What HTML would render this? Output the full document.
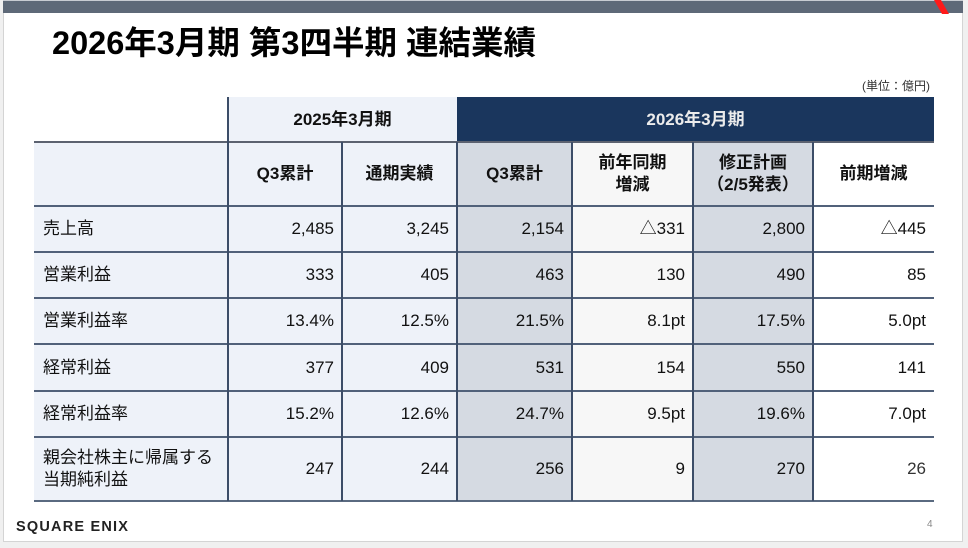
<!DOCTYPE html>
<html>
<head>
<meta charset="utf-8">
<style>
html,body{margin:0;padding:0;}
body{width:968px;height:548px;position:relative;overflow:hidden;background:#f0f0f0;font-family:"Liberation Sans","Noto Sans CJK JP",sans-serif;}
.slide{position:absolute;left:3px;top:0;width:958px;height:541px;background:#fff;border-left:1px solid #d4d4d4;border-right:1px solid #d4d4d4;border-bottom:1px solid #d4d4d4;}
.abs{position:absolute;}
.bar{position:absolute;left:3px;top:1px;width:960px;height:12px;background:#5e6978;}
.topline{position:absolute;left:3px;top:0;width:960px;height:1px;background:#c8ccd2;}
.title{position:absolute;left:52px;top:27px;height:32px;line-height:32px;font-size:32.5px;font-weight:bold;color:#000;white-space:nowrap;letter-spacing:0;}
.unit{position:absolute;left:862px;top:78px;height:16px;line-height:16px;font-size:12px;color:#333;white-space:nowrap;}
.cell{position:absolute;display:flex;align-items:center;box-sizing:border-box;font-size:17px;color:#111;white-space:nowrap;line-height:22px;}
.r{justify-content:flex-end;padding-right:8px;}
.l{justify-content:flex-start;padding-left:9px;}
.c{justify-content:center;text-align:center;font-weight:bold;}
.hl{position:absolute;height:2px;background:#51617a;}
.vl{position:absolute;width:2px;background:#3c4d68;}
.logo{position:absolute;left:16px;top:519px;height:16px;line-height:16px;font-size:14.5px;font-weight:bold;color:#222;letter-spacing:1.2px;white-space:nowrap;}
.pg{position:absolute;left:927px;top:518px;font-size:10px;color:#888;line-height:14px;}
</style>
</head>
<body>
<div class="slide"></div>
<div class="topline"></div>
<div class="bar"></div>
<svg class="abs" style="left:930px;top:0" width="24" height="16"><polygon points="4,0 11,0 19,14 12,14" fill="#ff1a1a"/></svg>

<div class="title">2026年3月期 第3四半期 連結業績</div>
<div class="unit">(単位：億円)</div>

<!-- column backgrounds -->
<div class="abs" style="left:228px;top:97px;width:229px;height:45px;background:#eef2f9;"></div>
<div class="abs" style="left:457px;top:97px;width:477px;height:45px;background:#1a365d;"></div>
<div class="abs" style="left:34px;top:142px;width:423px;height:359px;background:#eef2f9;"></div>
<div class="abs" style="left:457px;top:142px;width:115px;height:359px;background:#d5dae2;"></div>
<div class="abs" style="left:572px;top:142px;width:121px;height:359px;background:#f7f7f7;"></div>
<div class="abs" style="left:693px;top:142px;width:120px;height:359px;background:#d5dae2;"></div>
<div class="abs" style="left:813px;top:142px;width:121px;height:359px;background:#ffffff;"></div>

<!-- horizontal lines -->
<div class="hl" style="left:34px;top:141px;width:900px;background:#5c6270;"></div>
<div class="hl" style="left:34px;top:205px;width:900px;"></div>
<div class="hl" style="left:34px;top:251px;width:900px;"></div>
<div class="hl" style="left:34px;top:297px;width:900px;"></div>
<div class="hl" style="left:34px;top:343px;width:900px;"></div>
<div class="hl" style="left:34px;top:390px;width:900px;"></div>
<div class="hl" style="left:34px;top:436px;width:900px;"></div>
<div class="hl" style="left:34px;top:500px;width:900px;background:#5a6a80;"></div>

<!-- vertical lines -->
<div class="vl" style="left:227px;top:97px;height:404px;"></div>
<div class="vl" style="left:341px;top:142px;height:359px;"></div>
<div class="vl" style="left:456px;top:142px;height:359px;"></div>
<div class="vl" style="left:571px;top:142px;height:359px;"></div>
<div class="vl" style="left:692px;top:142px;height:359px;"></div>
<div class="vl" style="left:812px;top:142px;height:359px;"></div>

<!-- year headers -->
<div class="cell c" style="left:228px;top:97px;width:229px;height:45px;">2025年3月期</div>
<div class="cell c" style="left:457px;top:97px;width:477px;height:45px;color:#ececec;">2026年3月期</div>

<!-- column headers -->
<div class="cell c" style="left:228px;top:142px;width:114px;height:64px;">Q3累計</div>
<div class="cell c" style="left:342px;top:142px;width:115px;height:64px;">通期実績</div>
<div class="cell c" style="left:457px;top:142px;width:115px;height:64px;">Q3累計</div>
<div class="cell c" style="left:572px;top:142px;width:121px;height:64px;">前年同期<br>増減</div>
<div class="cell c" style="left:693px;top:142px;width:120px;height:64px;">修正計画<br>（2/5発表）</div>
<div class="cell c" style="left:813px;top:142px;width:121px;height:64px;">前期増減</div>

<!-- row 1 -->
<div class="cell l" style="left:34px;top:206px;width:194px;height:46px;">売上高</div>
<div class="cell r" style="left:228px;top:206px;width:114px;height:46px;">2,485</div>
<div class="cell r" style="left:342px;top:206px;width:115px;height:46px;">3,245</div>
<div class="cell r" style="left:457px;top:206px;width:115px;height:46px;">2,154</div>
<div class="cell r" style="left:572px;top:206px;width:121px;height:46px;">△331</div>
<div class="cell r" style="left:693px;top:206px;width:120px;height:46px;">2,800</div>
<div class="cell r" style="left:813px;top:206px;width:121px;height:46px;">△445</div>

<!-- row 2 -->
<div class="cell l" style="left:34px;top:252px;width:194px;height:46px;">営業利益</div>
<div class="cell r" style="left:228px;top:252px;width:114px;height:46px;">333</div>
<div class="cell r" style="left:342px;top:252px;width:115px;height:46px;">405</div>
<div class="cell r" style="left:457px;top:252px;width:115px;height:46px;">463</div>
<div class="cell r" style="left:572px;top:252px;width:121px;height:46px;">130</div>
<div class="cell r" style="left:693px;top:252px;width:120px;height:46px;">490</div>
<div class="cell r" style="left:813px;top:252px;width:121px;height:46px;">85</div>

<!-- row 3 -->
<div class="cell l" style="left:34px;top:298px;width:194px;height:46px;">営業利益率</div>
<div class="cell r" style="left:228px;top:298px;width:114px;height:46px;">13.4%</div>
<div class="cell r" style="left:342px;top:298px;width:115px;height:46px;">12.5%</div>
<div class="cell r" style="left:457px;top:298px;width:115px;height:46px;">21.5%</div>
<div class="cell r" style="left:572px;top:298px;width:121px;height:46px;">8.1pt</div>
<div class="cell r" style="left:693px;top:298px;width:120px;height:46px;">17.5%</div>
<div class="cell r" style="left:813px;top:298px;width:121px;height:46px;">5.0pt</div>

<!-- row 4 -->
<div class="cell l" style="left:34px;top:344px;width:194px;height:47px;">経常利益</div>
<div class="cell r" style="left:228px;top:344px;width:114px;height:47px;">377</div>
<div class="cell r" style="left:342px;top:344px;width:115px;height:47px;">409</div>
<div class="cell r" style="left:457px;top:344px;width:115px;height:47px;">531</div>
<div class="cell r" style="left:572px;top:344px;width:121px;height:47px;">154</div>
<div class="cell r" style="left:693px;top:344px;width:120px;height:47px;">550</div>
<div class="cell r" style="left:813px;top:344px;width:121px;height:47px;">141</div>

<!-- row 5 -->
<div class="cell l" style="left:34px;top:391px;width:194px;height:46px;">経常利益率</div>
<div class="cell r" style="left:228px;top:391px;width:114px;height:46px;">15.2%</div>
<div class="cell r" style="left:342px;top:391px;width:115px;height:46px;">12.6%</div>
<div class="cell r" style="left:457px;top:391px;width:115px;height:46px;">24.7%</div>
<div class="cell r" style="left:572px;top:391px;width:121px;height:46px;">9.5pt</div>
<div class="cell r" style="left:693px;top:391px;width:120px;height:46px;">19.6%</div>
<div class="cell r" style="left:813px;top:391px;width:121px;height:46px;">7.0pt</div>

<!-- row 6 -->
<div class="cell l" style="left:34px;top:437px;width:194px;height:64px;">親会社株主に帰属する<br>当期純利益</div>
<div class="cell r" style="left:228px;top:437px;width:114px;height:64px;">247</div>
<div class="cell r" style="left:342px;top:437px;width:115px;height:64px;">244</div>
<div class="cell r" style="left:457px;top:437px;width:115px;height:64px;">256</div>
<div class="cell r" style="left:572px;top:437px;width:121px;height:64px;">9</div>
<div class="cell r" style="left:693px;top:437px;width:120px;height:64px;">270</div>
<div class="cell r" style="left:813px;top:437px;width:121px;height:64px;color:#333;">26</div>

<div class="logo">SQUARE ENIX</div>
<div class="pg">4</div>
</body>
</html>
